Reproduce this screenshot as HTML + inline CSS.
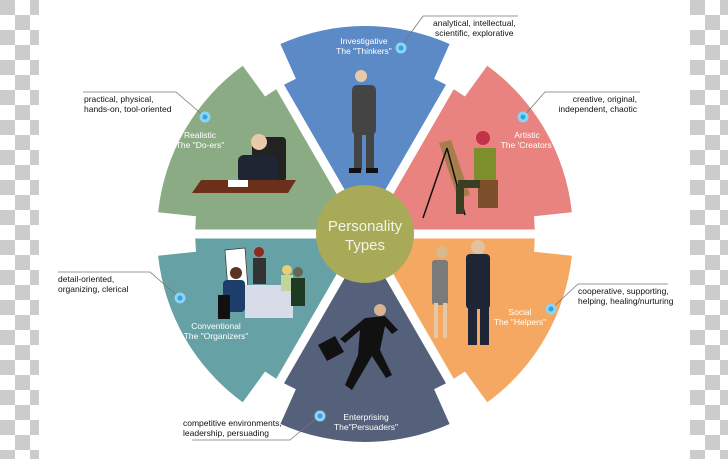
<!DOCTYPE html>
<html><head><meta charset="utf-8"><style>
html,body{margin:0;padding:0}
body{width:728px;height:459px;overflow:hidden;position:relative;font-family:"Liberation Sans",sans-serif;
background:repeating-conic-gradient(#fff 0 25%,#ccc 0 50%) 0 0/30px 30px;}
#w{position:absolute;left:39px;top:0;width:651px;height:459px;background:#fff}
svg{position:absolute;left:0;top:0}
</style></head><body><div id="w"></div>
<svg width="728" height="459" viewBox="0 0 728 459" font-family="Liberation Sans, sans-serif">
<defs>
<path id="wd" d="M0,0 L-85,-147.2 L-69.1,-155.3 L-84.6,-190 A208,208 0 0 1 84.6,-190 L69.1,-155.3 L85,-147.2 Z"/>
</defs>
<g transform="translate(365,234)">
<use href="#wd" fill="#5b8ac7"/>
<use href="#wd" fill="#e8837f" transform="rotate(60)"/>
<use href="#wd" fill="#f4a861" transform="rotate(120)"/>
<use href="#wd" fill="#55607a" transform="rotate(180)"/>
<use href="#wd" fill="#66a1a5" transform="rotate(240)"/>
<use href="#wd" fill="#8aab84" transform="rotate(300)"/>
<g stroke="#fff" stroke-width="9">
<line x1="0" y1="0" x2="0" y2="-215" transform="rotate(30)"/>
<line x1="0" y1="0" x2="0" y2="-215" transform="rotate(90)"/>
<line x1="0" y1="0" x2="0" y2="-215" transform="rotate(150)"/>
<line x1="0" y1="0" x2="0" y2="-215" transform="rotate(210)"/>
<line x1="0" y1="0" x2="0" y2="-215" transform="rotate(270)"/>
<line x1="0" y1="0" x2="0" y2="-215" transform="rotate(330)"/>
</g>
<circle r="49" fill="#a8aa58"/>
<text y="-3" text-anchor="middle" fill="#f4f4e6" font-size="15">Personality</text>
<text y="16" text-anchor="middle" fill="#f4f4e6" font-size="15">Types</text>
</g>
<g fill="#444">
<rect x="352" y="85" width="24" height="50" rx="5"/><rect x="354" y="130" width="8" height="40"/><rect x="366" y="130" width="8" height="40"/>
<circle cx="361" cy="76" r="6" fill="#e8c9a8"/><rect x="349" y="168" width="12" height="5" fill="#111"/><rect x="366" y="168" width="12" height="5" fill="#111"/>
</g>
<g>
<polygon points="439,143 451,140 470,195 458,198" fill="#a77d4c"/>
<line x1="447" y1="148" x2="423" y2="218" stroke="#111" stroke-width="1.5"/><line x1="447" y1="148" x2="465" y2="215" stroke="#111" stroke-width="1.5"/>
<rect x="474" y="148" width="22" height="32" fill="#7d8f2c"/><circle cx="483" cy="138" r="7" fill="#c3324a"/>
<rect x="478" y="180" width="20" height="28" fill="#7d4e2a"/><rect x="458" y="180" width="22" height="8" fill="#3a3f22"/><rect x="456" y="186" width="8" height="28" fill="#3a3f22"/>
</g>
<g>
<rect x="252" y="137" width="34" height="45" rx="4" fill="#222"/><rect x="238" y="155" width="40" height="28" rx="6" fill="#1f2533"/>
<circle cx="259" cy="142" r="8" fill="#e8c9a8"/>
<polygon points="201,180 296,180 288,193 192,193" fill="#6b2f1a"/><rect x="228" y="180" width="20" height="7" fill="#fff"/>
</g>
<g>
<polygon points="225,250 245,248 248,290 228,290" fill="#fff" stroke="#333" stroke-width="0.7"/>
<rect x="245" y="285" width="48" height="33" fill="#d8dce8"/>
<rect x="223" y="280" width="22" height="32" rx="4" fill="#1d3d6b"/><circle cx="236" cy="273" r="6" fill="#5a3620"/>
<rect x="218" y="295" width="12" height="24" fill="#111"/>
<rect x="253" y="258" width="13" height="26" fill="#333"/><circle cx="259" cy="252" r="5" fill="#8e2a20"/>
<rect x="281" y="275" width="12" height="16" fill="#c2d49a"/><circle cx="287" cy="270" r="5" fill="#e8d070"/>
<rect x="291" y="278" width="14" height="28" fill="#1f3a22"/><circle cx="298" cy="272" r="5" fill="#665"/>
</g>
<g>
<rect x="432" y="260" width="16" height="45" rx="3" fill="#7a7a7a"/><circle cx="442" cy="252" r="6" fill="#d9b98b"/>
<rect x="434" y="303" width="4" height="35" fill="#e6c7a5"/><rect x="443" y="303" width="4" height="35" fill="#e6c7a5"/>
<rect x="466" y="254" width="24" height="55" rx="4" fill="#1e2535"/><circle cx="478" cy="247" r="7" fill="#e3c19e"/>
<rect x="468" y="305" width="9" height="40" fill="#1e2535"/><rect x="480" y="305" width="9" height="40" fill="#1e2535"/>
</g>
<g fill="#111">
<polygon points="365,318 385,316 398,330 392,334 385,326 380,350 392,375 386,378 372,356 352,390 345,385 358,355 360,330 345,343 340,339"/>
<circle cx="380" cy="310" r="6" fill="#d9b490"/>
<polygon points="318,345 335,336 344,352 327,361"/>
</g>
<g fill="#fff" font-size="8.5" text-anchor="middle">
<text x="364" y="44">Investigative</text><text x="364" y="54">The "Thinkers"</text>
<text x="527" y="138">Artistic</text><text x="527" y="148">The 'Creators'</text>
<text x="200" y="138">Realistic</text><text x="200" y="148">The "Do-ers"</text>
<text x="216" y="329">Conventional</text><text x="216" y="339">The "Organizers"</text>
<text x="520" y="315">Social</text><text x="520" y="325">The "Helpers"</text>
<text x="366" y="420">Enterprising</text><text x="366" y="430">The"Persuaders"</text>
</g>
<g stroke="#777" stroke-width="0.8" fill="none">
<polyline points="400,48 423,16 518,16"/>
<polyline points="523,117 545,92 640,92"/>
<polyline points="205,117 176,92 83,92"/>
<polyline points="180,298 150,272 58,272"/>
<polyline points="551,309 578,284 668,284"/>
<polyline points="319,416 290,440 192,440"/>
</g>
<g>
<circle cx="401" cy="48" r="5.5" fill="#8fd3f3"/><circle cx="401" cy="48" r="2.5" fill="#2fa6e0"/>
<circle cx="523" cy="117" r="5.5" fill="#8fd3f3"/><circle cx="523" cy="117" r="2.5" fill="#2fa6e0"/>
<circle cx="205" cy="117" r="5.5" fill="#8fd3f3"/><circle cx="205" cy="117" r="2.5" fill="#2fa6e0"/>
<circle cx="180" cy="298" r="5.5" fill="#8fd3f3"/><circle cx="180" cy="298" r="2.5" fill="#2fa6e0"/>
<circle cx="551" cy="309" r="5.5" fill="#8fd3f3"/><circle cx="551" cy="309" r="2.5" fill="#2fa6e0"/>
<circle cx="320" cy="416" r="5.5" fill="#8fd3f3"/><circle cx="320" cy="416" r="2.5" fill="#2fa6e0"/>
</g>
<g fill="#111" font-size="8.5">
<text x="433" y="26">analytical, intellectual,</text><text x="435" y="36">scientific, explorative</text>
<text x="637" y="102" text-anchor="end">creative, original,</text><text x="637" y="112" text-anchor="end">independent, chaotic</text>
<text x="84" y="102">practical, physical,</text><text x="84" y="112">hands-on, tool-oriented</text>
<text x="58" y="282">detail-oriented,</text><text x="58" y="292">organizing, clerical</text>
<text x="578" y="294">cooperative, supporting,</text><text x="578" y="304">helping, healing/nurturing</text>
<text x="183" y="426">competitive environments,</text><text x="183" y="436">leadership, persuading</text>
</g>
</svg>
</body></html>
